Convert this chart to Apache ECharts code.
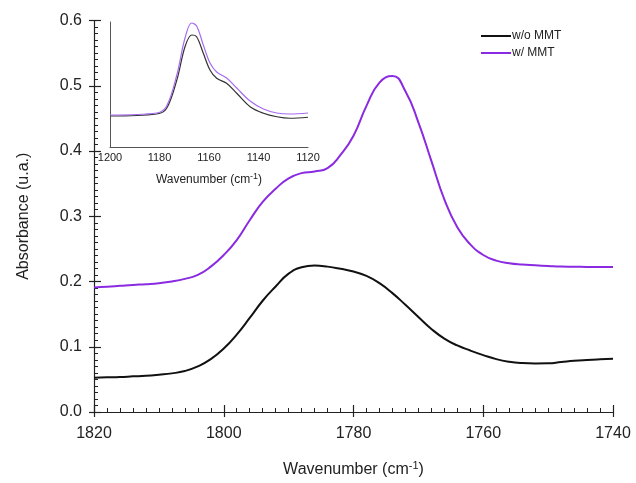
<!DOCTYPE html>
<html>
<head>
<meta charset="utf-8">
<script src="https://cdn.jsdelivr.net/npm/echarts@6/dist/echarts.min.js"></script>
<style>
  html, body { margin: 0; padding: 0; background: #fff; }
  #chart { width: 636px; height: 483px; }
</style>
</head>
<body>
<div id="chart"></div>
<script>
// main spectrum, carbonyl region, read every 2 cm-1
const wavenumbers = [1820, 1818, 1816, 1814, 1812, 1810, 1808, 1806, 1804, 1802, 1800, 1798, 1796, 1794, 1792, 1790, 1788, 1786, 1784, 1782, 1780, 1778, 1776, 1774, 1772, 1770, 1768, 1766, 1764, 1762, 1760, 1758, 1756, 1754, 1752, 1750, 1748, 1746, 1744, 1742, 1740]
const absWoMMT = [0.0526, 0.0531, 0.0536, 0.0546, 0.0556, 0.0572, 0.0592, 0.0628, 0.0699, 0.0810, 0.0973, 0.1187, 0.1441, 0.1705, 0.1923, 0.2120, 0.2218, 0.2244, 0.2228, 0.2195, 0.2152, 0.2085, 0.1974, 0.1822, 0.1643, 0.1456, 0.1273, 0.1125, 0.1020, 0.0942, 0.0872, 0.0810, 0.0770, 0.0750, 0.0744, 0.0746, 0.0765, 0.0785, 0.0798, 0.0808, 0.0816]
const absWMMT = [0.1908, 0.1918, 0.1933, 0.1948, 0.1959, 0.1974, 0.2000, 0.2040, 0.2101, 0.2228, 0.2406, 0.2635, 0.2939, 0.3219, 0.3422, 0.3580, 0.3661, 0.3686, 0.3737, 0.3940, 0.4235, 0.4692, 0.5049, 0.5150, 0.4916, 0.4439, 0.3849, 0.3259, 0.2830, 0.2569, 0.2406, 0.2320, 0.2279, 0.2259, 0.2248, 0.2238, 0.2228, 0.2226, 0.2223, 0.2223, 0.2223]

// inset, 1200-1120 region (arbitrary units)
const insetWn = [1200, 1181.1, 1177.1, 1173, 1169.7, 1167, 1165, 1162.3, 1159.6, 1156.9, 1152.9, 1148.8, 1143.4, 1138, 1132.6, 1127.3, 1120]
const insetWoMMT = [0.248, 0.264, 0.310, 0.536, 0.802, 0.896, 0.882, 0.750, 0.616, 0.550, 0.510, 0.430, 0.322, 0.270, 0.242, 0.230, 0.238]
const insetWMMT = [0.256, 0.272, 0.328, 0.576, 0.872, 0.992, 0.968, 0.816, 0.672, 0.600, 0.552, 0.472, 0.368, 0.304, 0.272, 0.264, 0.272]

const pairs = (xs, ys) => xs.map((x, i) => [x, ys[i]])
const plain = (v) => String(v)

const font = 'Liberation Sans, Arial, sans-serif'
const txt = '#222'
const axisCol = '#222'

const chart = echarts.init(document.getElementById('chart'), null, { renderer: 'canvas' })

chart.setOption({
  animation: false,
  textStyle: { fontFamily: font },
  legend: {
    orient: 'vertical',
    left: 476,
    top: 25,
    itemWidth: 30,
    itemHeight: 12,
    itemGap: 5,
    icon: 'path://M0,5 L30,5 L30,7 L0,7 Z',
    textStyle: { fontSize: 12, color: txt, padding: [0, 0, 0, -4] },
    data: ['w/o MMT', 'w/ MMT'],
  },
  grid: [
    { left: 94, right: 23, top: 20.5, bottom: 68.5 },
    { left: 110, right: 328, top: 22, bottom: 336 },
  ],
  xAxis: [
    {
      type: 'value', gridIndex: 0, min: 1740, max: 1820, interval: 20, inverse: true,
      name: 'Wavenumber (cm{sup|-1})', nameLocation: 'middle', nameGap: 48,
      nameTextStyle: { fontSize: 16, color: txt, rich: { sup: { fontSize: 11, verticalAlign: 'top', padding: [0, 0, 9, 0], color: txt, fontFamily: font } } },
      axisLine: { lineStyle: { color: axisCol, width: 1.2 } },
      axisTick: { inside: true, length: 7, lineStyle: { color: axisCol, width: 1.2 } },
      minorTick: { show: true, splitNumber: 10, length: 4, lineStyle: { color: axisCol } },
      axisLabel: { fontSize: 16, color: txt, margin: 14, formatter: plain },
      splitLine: { show: false },
    },
    {
      type: 'value', gridIndex: 0, min: 1740, max: 1820, interval: 20, inverse: true,
      axisLine: { show: false },
      axisTick: { inside: false, length: 5, lineStyle: { color: axisCol, width: 1.2 } },
      axisLabel: { show: false },
      splitLine: { show: false },
      position: 'bottom',
    },
    {
      type: 'value', gridIndex: 1, min: 1120, max: 1200, interval: 20, inverse: true,
      name: 'Wavenumber (cm{sup|-1})', nameLocation: 'middle', nameGap: 25,
      nameTextStyle: { fontSize: 12, color: txt, rich: { sup: { fontSize: 9, verticalAlign: 'top', padding: [0, 0, 7, 0], color: txt, fontFamily: font } } },
      axisLine: { lineStyle: { color: '#555', width: 1 } },
      axisTick: { show: false },
      axisLabel: { fontSize: 11, color: txt, margin: 5, formatter: plain },
      splitLine: { show: false },
    },
  ],
  yAxis: [
    {
      type: 'value', gridIndex: 0, min: 0, max: 0.6, interval: 0.1,
      name: 'Absorbance (u.a.)', nameLocation: 'middle', nameGap: 62,
      nameTextStyle: { fontSize: 16, color: txt },
      axisLine: { show: true, lineStyle: { color: axisCol, width: 1.2 } },
      axisTick: { show: true, inside: true, length: 7, lineStyle: { color: axisCol, width: 1.2 } },
      minorTick: { show: true, splitNumber: 10, length: 4, lineStyle: { color: axisCol, width: 1 } },
      axisLabel: { fontSize: 16, color: txt, margin: 12, formatter: (v) => v.toFixed(1) },
      splitLine: { show: false },
    },
    {
      type: 'value', gridIndex: 0, min: 0, max: 0.6, interval: 0.1, position: 'left',
      axisLine: { show: false },
      axisTick: { show: true, inside: false, length: 5, lineStyle: { color: axisCol, width: 1.2 } },
      axisLabel: { show: false },
      splitLine: { show: false },
    },
    {
      type: 'value', gridIndex: 1, min: 0, max: 1,
      axisLine: { show: true, lineStyle: { color: '#555', width: 1 } },
      axisTick: { show: false },
      axisLabel: { show: false },
      splitLine: { show: false },
    },
  ],
  series: [
    {
      name: 'w/o MMT', type: 'line', xAxisIndex: 0, yAxisIndex: 0,
      data: pairs(wavenumbers, absWoMMT), showSymbol: false, smooth: 0.5,
      lineStyle: { color: '#111', width: 2 }, itemStyle: { color: '#111' },
    },
    {
      name: 'w/ MMT', type: 'line', xAxisIndex: 0, yAxisIndex: 0,
      data: pairs(wavenumbers, absWMMT), showSymbol: false, smooth: 0.5,
      lineStyle: { color: '#8a2be2', width: 2 }, itemStyle: { color: '#8a2be2' },
    },
    {
      name: 'inset w/o', type: 'line', xAxisIndex: 2, yAxisIndex: 2,
      data: pairs(insetWn, insetWoMMT), showSymbol: false, smooth: 0.35,
      lineStyle: { color: '#333', width: 1.2 },
    },
    {
      name: 'inset w/', type: 'line', xAxisIndex: 2, yAxisIndex: 2,
      data: pairs(insetWn, insetWMMT), showSymbol: false, smooth: 0.35,
      lineStyle: { color: '#a76cf0', width: 1.2 },
    },
  ],
})
</script>
</body>
</html>
